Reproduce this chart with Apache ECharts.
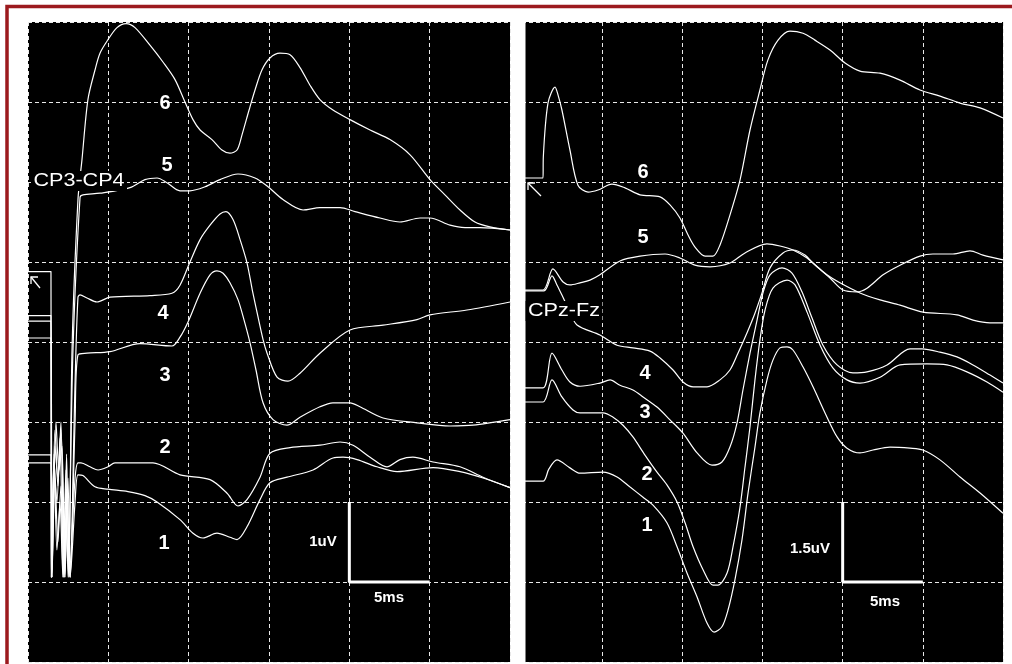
<!DOCTYPE html>
<html>
<head>
<meta charset="utf-8">
<script src="https://cdn.jsdelivr.net/npm/echarts@6/dist/echarts.min.js"></script>
<style>
html,body{margin:0;padding:0;background:#fff;}
#chart{width:1012px;height:664px;}
</style>
</head>
<body>
<div id="chart"></div>
<script>
// ---- Left panel (CP3-CP4): time in ms, vertical position in uV (1 uV per division)
const L6 = [[0,4.88],[1.43,4.88],[1.46,1.06],[1.68,2.9],[1.86,2.2],[2.05,3.0],[2.24,1.06],[2.40,2.6],[2.55,1.06],[2.74,3.9],[3.11,5.78],[3.36,6.28],[3.73,7.03],[4.17,7.4],[4.48,7.61],[4.98,7.78],[5.54,7.93],[6.10,7.98],[6.66,7.93],[7.59,7.71],[8.40,7.5],[9.15,7.28],[9.77,7.0],[10.27,6.78],[10.71,6.65],[11.45,6.53],[12.07,6.4],[12.57,6.36],[13.01,6.4],[13.32,6.59],[13.76,6.9],[14.13,7.15],[14.56,7.4],[15.06,7.55],[15.68,7.61],[16.31,7.59],[16.93,7.43],[17.55,7.21],[18.17,7.03],[18.98,6.9],[20.04,6.78],[21.29,6.65],[22.53,6.53],[23.78,6.34],[25.02,6.03],[25.95,5.84],[26.89,5.65],[27.82,5.5],[28.75,5.44],[30,5.4]];
const L5 = [[0,4.33],[1.43,4.33],[1.46,1.06],[1.62,2.5],[1.80,2.0],[1.99,2.8],[2.18,1.06],[2.36,2.4],[2.49,1.06],[2.80,3.9],[3.24,5.81],[3.42,5.84],[4.48,5.86],[6.35,5.93],[7.28,6.03],[8.03,6.05],[8.65,5.99],[9.46,5.89],[10.08,5.89],[11.02,5.94],[11.95,6.03],[13.07,6.1],[14.13,6.05],[14.94,5.94],[15.87,5.78],[17.12,5.65],[18.17,5.68],[19.42,5.68],[20.35,5.63],[21.91,5.55],[23.15,5.5],[24.40,5.55],[25.02,5.55],[26.27,5.46],[27.20,5.43],[28.13,5.43],[30,5.4]];
const L4 = [[0,4.26],[1.43,4.26],[1.49,1.06],[1.68,2.7],[1.86,2.3],[2.05,2.9],[2.30,1.06],[2.49,2.3],[2.62,1.06],[2.93,3.5],[3.11,4.56],[3.24,4.59],[3.67,4.55],[4.29,4.5],[5.10,4.56],[7.59,4.58],[8.96,4.61],[9.46,4.71],[10.08,5.0],[10.71,5.28],[11.33,5.46],[11.95,5.6],[12.32,5.63],[12.76,5.53],[13.20,5.28],[13.63,4.99],[14.00,4.61],[14.32,4.31],[14.63,4.03],[14.88,3.86],[15.50,3.56],[16.18,3.51],[16.93,3.61],[18.17,3.86],[20.04,4.15],[22.10,4.21],[24.21,4.28],[25.02,4.34],[27.32,4.4],[30,4.5]];
const L3 = [[0,4.05],[1.43,4.05],[1.49,1.06],[1.74,3.0],[1.93,2.4],[2.11,2.7],[2.30,1.06],[2.43,2.0],[2.62,1.06],[2.93,3.0],[3.11,3.84],[3.67,3.86],[5.10,3.88],[6.97,3.98],[8.96,3.95],[9.46,4.06],[9.96,4.25],[10.71,4.61],[11.33,4.84],[11.76,4.89],[12.14,4.86],[12.57,4.74],[13.07,4.53],[13.44,4.28],[13.82,3.99],[14.19,3.65],[14.63,3.24],[15.25,3.03],[16.12,2.96],[16.93,3.06],[18.17,3.19],[18.98,3.24],[20.04,3.24],[20.66,3.19],[22.10,3.05],[24.21,2.99],[26.27,2.95],[27.70,2.96],[30,3.03]];
const L2 = [[0,2.59],[1.43,2.59],[1.46,1.06],[1.62,2.6],[1.80,1.4],[1.99,2.0],[2.18,1.06],[2.36,1.8],[2.55,1.06],[2.93,2.3],[3.11,2.49],[3.30,2.49],[3.86,2.44],[4.36,2.4],[4.98,2.44],[5.41,2.49],[6.22,2.49],[7.78,2.49],[9.46,2.34],[11.33,2.28],[12.39,2.11],[13.07,1.95],[13.63,2.03],[14.44,2.31],[15.06,2.61],[16.31,2.68],[18.17,2.71],[19.42,2.75],[20.23,2.71],[21.29,2.56],[22.34,2.44],[23.15,2.53],[23.96,2.56],[25.21,2.5],[26.89,2.44],[28.32,2.31],[30,2.18]];
const L1 = [[0,2.49],[1.43,2.49],[1.49,1.06],[1.68,2.3],[1.86,1.5],[2.05,2.2],[2.24,1.06],[2.43,2.1],[2.62,1.06],[2.93,2.0],[3.11,2.34],[3.42,2.33],[4.17,2.19],[4.98,2.16],[6.22,2.13],[7.28,2.08],[8.03,2.0],[9.46,1.78],[10.27,1.61],[10.89,1.55],[11.76,1.61],[12.57,1.56],[13.01,1.53],[13.63,1.69],[14.44,2.03],[15.06,2.24],[16.12,2.31],[17.74,2.4],[18.98,2.55],[19.61,2.56],[20.48,2.53],[21.72,2.44],[22.97,2.38],[25.21,2.43],[26.89,2.38],[28.32,2.3],[30,2.18]];

// ---- Right panel (CPz-Fz): time in ms, vertical position in uV (1.5 uV per division)
const R6 = [[0,9.075],[1.31,9.075],[1.33,9.47],[1.62,10.48],[2.06,10.78],[2.25,10.63],[2.49,10.35],[2.99,9.6],[3.49,8.94],[4.12,8.81],[4.74,8.85],[5.61,8.96],[6.42,8.89],[7.36,8.76],[8.61,8.72],[9.23,8.57],[9.85,8.325],[10.35,8.01],[10.79,7.78],[11.42,7.61],[11.91,7.61],[12.35,7.82],[12.97,8.38],[13.60,9.04],[14.22,9.975],[14.84,10.725],[15.34,11.29],[15.97,11.66],[16.71,11.83],[17.53,11.79],[18.27,11.66],[19.21,11.475],[20.15,11.23],[21.08,11.08],[22.33,11.04],[23.58,10.91],[24.82,10.725],[26.07,10.61],[27.32,10.48],[28.57,10.39],[30,10.2]];
const R5 = [[0,6.975],[1.31,6.975],[1.93,7.37],[2.56,7.125],[2.99,7.07],[3.62,7.11],[4.24,7.16],[4.86,7.26],[6.11,7.52],[7.36,7.61],[8.92,7.65],[9.85,7.575],[10.79,7.44],[11.73,7.41],[12.97,7.48],[13.91,7.67],[15.28,7.84],[16.09,7.8],[16.90,7.725],[17.78,7.575],[18.40,7.41],[19.21,7.2],[20.02,6.975],[20.89,6.94],[21.52,7.01],[22.52,7.26],[23.58,7.44],[24.82,7.61],[25.63,7.65],[26.88,7.65],[27.94,7.71],[28.75,7.63],[30,7.54]];
const R4 = [[0,6.96],[1.37,6.96],[1.87,7.24],[2.18,7.07],[2.49,6.88],[2.99,6.56],[3.43,6.32],[4.86,6.13],[5.93,5.94],[6.92,5.89],[7.98,5.83],[8.61,5.7],[9.42,5.475],[10.04,5.25],[10.67,5.16],[11.54,5.16],[12.35,5.29],[12.97,5.475],[13.47,5.79],[14.03,6.17],[14.53,6.54],[14.97,6.92],[15.47,7.39],[16.28,7.67],[16.90,7.725],[17.65,7.63],[18.15,7.48],[19.02,7.26],[19.83,7.11],[21.08,6.92],[22.33,6.79],[23.58,6.69],[25.01,6.56],[27.13,6.51],[28.13,6.41],[29.19,6.36],[30,6.36]];
const R3 = [[0,5.14],[1.31,5.14],[1.87,5.79],[2.49,5.475],[2.99,5.25],[3.62,5.17],[4.86,5.23],[5.49,5.29],[6.11,5.19],[6.92,5.1],[7.55,4.97],[8.42,4.78],[9.23,4.54],[10.04,4.29],[10.92,3.92],[11.85,3.69],[12.47,3.75],[12.97,4.03],[13.41,4.48],[13.78,5.1],[14.22,5.79],[14.66,6.41],[15.03,6.92],[15.47,7.26],[16.22,7.39],[16.84,7.29],[17.46,6.94],[18.09,6.45],[18.77,5.94],[19.65,5.57],[20.64,5.42],[21.52,5.44],[22.77,5.57],[24.20,5.87],[24.95,5.87],[26.07,5.81],[27.13,5.72],[28.13,5.57],[29.19,5.38],[30,5.23]];
const R2 = [[0,4.875],[1.31,4.875],[1.87,5.29],[2.49,4.97],[3.18,4.725],[3.62,4.67],[5.05,4.67],[5.68,4.59],[6.30,4.44],[6.92,4.22],[7.67,3.88],[8.42,3.56],[9.04,3.32],[9.67,3.0],[10.17,2.61],[10.67,2.16],[11.30,1.725],[11.91,1.44],[12.22,1.44],[12.79,1.67],[13.16,2.16],[13.60,2.91],[13.91,3.66],[14.22,4.41],[14.53,5.29],[14.84,6.04],[15.16,6.6],[15.65,7.01],[16.53,7.16],[17.03,7.07],[17.78,6.56],[18.59,5.94],[19.40,5.51],[20.27,5.29],[21.08,5.23],[22.33,5.34],[23.58,5.57],[25.26,5.59],[26.51,5.57],[27.75,5.44],[29.00,5.25],[30,5.06]];
const R1 = [[0,3.39],[1.31,3.39],[1.68,3.62],[2.18,3.79],[2.99,3.64],[3.62,3.54],[5.05,3.56],[5.93,3.47],[6.74,3.28],[7.55,3.09],[8.17,2.94],[9.04,2.61],[9.67,2.16],[10.29,1.67],[10.92,1.22],[11.54,0.73],[11.98,0.56],[12.47,0.66],[12.85,0.975],[13.28,1.54],[13.72,2.29],[14.10,3.17],[14.53,4.03],[14.84,4.67],[15.28,5.29],[15.65,5.66],[16.09,5.89],[16.53,5.91],[16.90,5.85],[17.53,5.53],[18.15,5.16],[18.90,4.67],[19.65,4.22],[20.27,4.01],[21.08,3.92],[21.89,3.975],[22.95,4.03],[24.20,4.01],[25.01,3.975],[26.07,3.79],[27.32,3.47],[28.57,3.17],[30,2.79]];

// ---- Calibration bars
const scaleLeft = [[20,2],[20,1],[25,1]];   // 1 uV / 5 ms
const scaleRight = [[20,3],[20,1.5],[25,1.5]]; // 1.5 uV / 5 ms

const traceNames = ['1','2','3','4','5','6'];
const leftTraces = [L1,L2,L3,L4,L5,L6];
const rightTraces = [R1,R2,R3,R4,R5,R6];

const chart = echarts.init(document.getElementById('chart'), null, {renderer:'canvas'});

const gridLine = {show:true, lineStyle:{color:'#e8e8e8', type:[4,3], width:1}};
function axisX(g){return {gridIndex:g,type:'value',min:0,max:30,interval:5,axisLine:{show:false},axisTick:{show:false},axisLabel:{show:false},splitLine:gridLine};}
function axisY(g,max,iv){return {gridIndex:g,type:'value',min:0,max:max,interval:iv,axisLine:{show:false},axisTick:{show:false},axisLabel:{show:false},splitLine:gridLine};}

const series = [];
leftTraces.forEach((d,i)=>series.push({name:'L'+traceNames[i],type:'line',xAxisIndex:0,yAxisIndex:0,data:d,showSymbol:false,smooth:0.3,lineStyle:{color:'#fff',width:1.2},z:3}));
rightTraces.forEach((d,i)=>series.push({name:'R'+traceNames[i],type:'line',xAxisIndex:1,yAxisIndex:1,data:d,showSymbol:false,smooth:0.3,lineStyle:{color:'#fff',width:1.2},z:3}));
series.push({type:'line',xAxisIndex:0,yAxisIndex:0,data:scaleLeft,showSymbol:false,lineStyle:{color:'#fff',width:3},z:4});
series.push({type:'line',xAxisIndex:1,yAxisIndex:1,data:scaleRight,showSymbol:false,lineStyle:{color:'#fff',width:3},z:4});

function txt(x,y,t,font,extra){
  const o = {type:'text',x:x,y:y,z:100,style:Object.assign({text:t,font:font,fill:'#fff',align:'center',verticalAlign:'middle'},extra||{})};
  return o;
}
const numFont = 'bold 20px "Liberation Sans", Arial, sans-serif';
const calFont = 'bold 15px "Liberation Sans", Arial, sans-serif';

const graphics = [
  // white gap between panels
  {type:'rect',z:90,shape:{x:511,y:18,width:14.5,height:650},style:{fill:'#fff'}},
  // outer dark red frame
  {type:'rect',z:95,shape:{x:7,y:6.5,width:1100,height:1000},style:{fill:'none',stroke:'#9c1a1e',lineWidth:3.5}},
  // channel labels
  Object.assign(txt(79,181,'CP3-CP4','18px "Liberation Sans", Arial, sans-serif',{backgroundColor:'#000',padding:[1,2]}),{scaleX:1.2}),
  Object.assign(txt(564,311,'CPz-Fz','18px "Liberation Sans", Arial, sans-serif',{backgroundColor:'#000',padding:[1,2]}),{scaleX:1.2}),
  // trace numbers left
  txt(165,103,'6',numFont), txt(167,165,'5',numFont), txt(163,313,'4',numFont),
  txt(165,375,'3',numFont), txt(165,447,'2',numFont), txt(164,543,'1',numFont),
  // trace numbers right
  txt(643,172,'6',numFont), txt(643,237,'5',numFont), txt(645,373,'4',numFont),
  txt(645,412,'3',numFont), txt(647,474,'2',numFont), txt(647,525,'1',numFont),
  // calibration texts
  txt(323,542,'1uV',calFont), txt(389,598,'5ms',calFont),
  txt(810,549,'1.5uV',calFont), txt(885,602,'5ms',calFont),
  // stimulus arrows
  {type:'polyline',z:100,shape:{points:[[40,288],[31,277]]},style:{stroke:'#fff',lineWidth:1.3,fill:null}},
  {type:'polyline',z:100,shape:{points:[[31,284],[31,277],[38,277]]},style:{stroke:'#fff',lineWidth:1.3,fill:null}},
  {type:'polyline',z:100,shape:{points:[[541,196],[528,183]]},style:{stroke:'#fff',lineWidth:1.3,fill:null}},
  {type:'polyline',z:100,shape:{points:[[528,190],[528,183],[535,183]]},style:{stroke:'#fff',lineWidth:1.3,fill:null}}
];

chart.setOption({
  animation:false,
  backgroundColor:'#fff',
  grid:[
    {left:28,top:22,width:482,height:640,show:true,backgroundColor:'#000',borderWidth:0},
    {left:522,top:22,width:481,height:640,show:true,backgroundColor:'#000',borderWidth:0}
  ],
  xAxis:[axisX(0),axisX(1)],
  yAxis:[axisY(0,8,1),axisY(1,12,1.5)],
  series:series,
  graphic:graphics
});
</script>
</body>
</html>
